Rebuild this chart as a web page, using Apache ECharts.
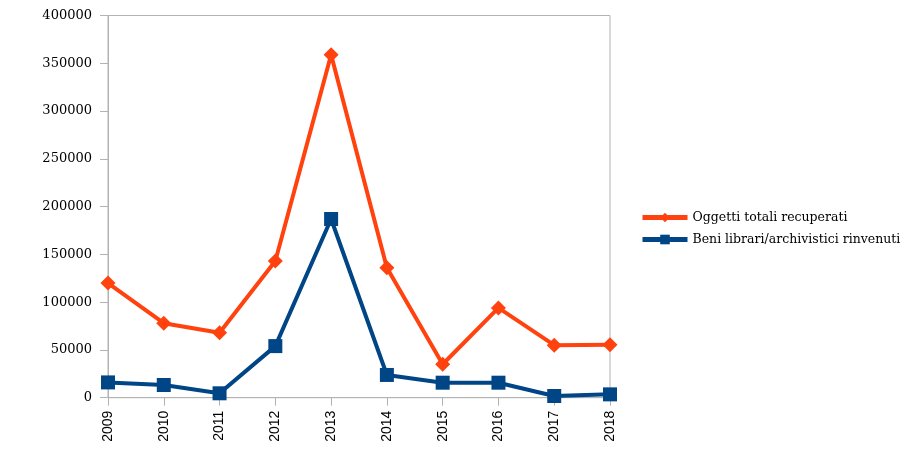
<!DOCTYPE html>
<html><head><meta charset="utf-8">
<script src="https://cdn.jsdelivr.net/npm/echarts@6/dist/echarts.min.js"></script>
<style>html,body{margin:0;padding:0;background:#fff}#c{width:911px;height:473px}</style>
</head><body><div id="c"></div>
<script>
const years = ['2009','2010','2011','2012','2013','2014','2015','2016','2017','2018'];
const oggetti = [120000, 78000, 68000, 143000, 359000, 136000, 35000, 94000, 55000, 55500];
const beni = [16000, 13300, 4600, 54000, 187000, 23800, 15700, 15700, 1800, 3500];
const seriesNames = ['Oggetti totali recuperati', 'Beni librari/archivistici rinvenuti'];

const chart = echarts.init(document.getElementById('c'), null, {renderer:'canvas'});
chart.setOption({
  animation:false,
  backgroundColor:'#fff',
  grid:{left:108, right:301, top:15.5, bottom:75.3, show:true, borderColor:'#b3b3b3', borderWidth:1},
  legend:{
    orient:'vertical', left:635, top:206, itemWidth:45, itemHeight:12, itemGap:9,
    lineStyle:{width:5},
    textStyle:{fontFamily:'DejaVu Serif', fontSize:12.5, color:'#000'},
    data:seriesNames
  },
  xAxis:{
    type:'category', data:years, boundaryGap:false,
    axisLine:{lineStyle:{color:'#b3b3b3'}},
    axisTick:{show:true, alignWithLabel:true, length:8, lineStyle:{color:'#b3b3b3'}},
    axisLabel:{rotate:90, margin:13, fontFamily:'Liberation Sans', fontSize:14, color:'#000'},
    splitLine:{show:false}
  },
  yAxis:{
    type:'value', min:0, max:400000, interval:50000,
    axisLine:{show:true, lineStyle:{color:'#b3b3b3'}},
    axisTick:{show:true, length:8, lineStyle:{color:'#b3b3b3'}},
    axisLabel:{margin:16, fontFamily:'DejaVu Serif', fontSize:13, color:'#000', formatter:(v)=>String(v)},
    splitLine:{show:false}
  },
  series:[
    {name:seriesNames[0], type:'line', data:oggetti, symbol:'diamond', symbolSize:15,
     lineStyle:{width:4, color:'#ff420e'}, itemStyle:{color:'#ff420e'}},
    {name:seriesNames[1], type:'line', data:beni, symbol:'rect', symbolSize:14,
     lineStyle:{width:4, color:'#004586'}, itemStyle:{color:'#004586'}}
  ]
});
</script></body></html>
